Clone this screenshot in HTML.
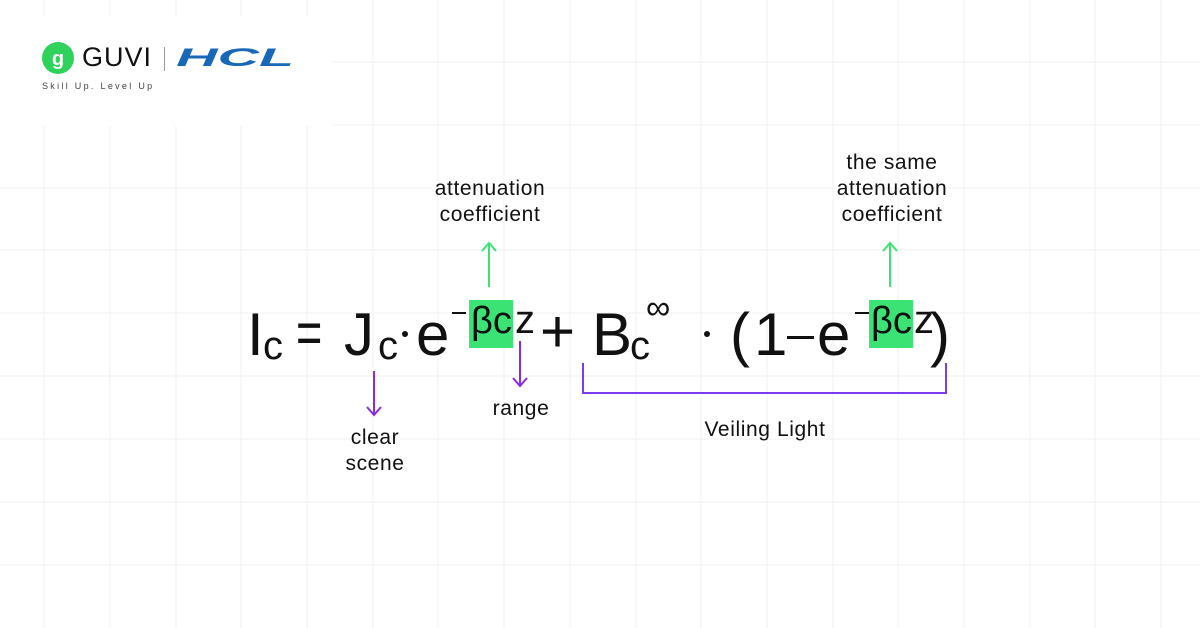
<!DOCTYPE html>
<html><head><meta charset="utf-8"><style>
body{margin:0;width:1200px;height:628px;overflow:hidden;background:#fff;position:relative;font-family:"Liberation Sans",sans-serif;color:#111}
.a{position:absolute;white-space:nowrap;line-height:1}
.big{font-size:60px}
.sub{font-size:40px}
.lbl{font-size:21px;text-align:center;line-height:26px;letter-spacing:0.6px;color:#111}
.grn{position:absolute;background:#3ae374}
.ln{position:absolute;background:#111}
</style></head><body>
<svg width="1200" height="628" style="position:absolute;left:0;top:0">
<g stroke="#f2f2f2" stroke-width="1">
<line x1="44" y1="0" x2="44" y2="628"/><line x1="110" y1="0" x2="110" y2="628"/><line x1="176" y1="0" x2="176" y2="628"/><line x1="241" y1="0" x2="241" y2="628"/><line x1="307" y1="0" x2="307" y2="628"/><line x1="373" y1="0" x2="373" y2="628"/><line x1="438" y1="0" x2="438" y2="628"/><line x1="504" y1="0" x2="504" y2="628"/><line x1="570" y1="0" x2="570" y2="628"/><line x1="636" y1="0" x2="636" y2="628"/><line x1="701" y1="0" x2="701" y2="628"/><line x1="767" y1="0" x2="767" y2="628"/><line x1="833" y1="0" x2="833" y2="628"/><line x1="898" y1="0" x2="898" y2="628"/><line x1="964" y1="0" x2="964" y2="628"/><line x1="1030" y1="0" x2="1030" y2="628"/><line x1="1095" y1="0" x2="1095" y2="628"/><line x1="1161" y1="0" x2="1161" y2="628"/>
<line x1="0" y1="62" x2="1200" y2="62"/><line x1="0" y1="125" x2="1200" y2="125"/><line x1="0" y1="188" x2="1200" y2="188"/><line x1="0" y1="250" x2="1200" y2="250"/><line x1="0" y1="313" x2="1200" y2="313"/><line x1="0" y1="376" x2="1200" y2="376"/><line x1="0" y1="439" x2="1200" y2="439"/><line x1="0" y1="502" x2="1200" y2="502"/><line x1="0" y1="565" x2="1200" y2="565"/>
</g>
<rect x="0" y="16" width="333" height="110" fill="#fff"/>
<circle cx="58" cy="58" r="16" fill="#2fd25a"/>
<text x="58" y="65" font-size="20" font-weight="bold" fill="#fff" text-anchor="middle" font-family="Liberation Sans">g</text>
<g stroke="#3ae374" stroke-width="2" fill="none">
<line x1="489" y1="287" x2="489" y2="244"/><polyline points="482,251 489,243 496,251"/>
<line x1="890" y1="287" x2="890" y2="244"/><polyline points="883,251 890,243 897,251"/>
</g>
<g stroke="#8a2be2" stroke-width="2" fill="none">
<line x1="374" y1="371" x2="374" y2="414"/><polyline points="367,407 374,415 381,407"/>
<line x1="520" y1="341" x2="520" y2="385"/><polyline points="513,378 520,386 527,378"/>
</g>
<polyline points="583,363 583,393 946,393 946,363" stroke="#7a3cf0" stroke-width="2" fill="none"/>
</svg>
<div class="a" style="left:82px;top:44px;font-size:27px;letter-spacing:1px;color:#111">GUVI</div>
<div style="position:absolute;left:164px;top:47px;width:1px;height:24px;background:#999"></div>
<div class="a" style="left:176px;top:46px;font-size:25px;font-weight:bold;font-style:italic;color:#1868b8;transform:scaleX(2.3);transform-origin:left;letter-spacing:0px">HCL</div>
<div class="a" style="left:42px;top:82px;font-size:9px;letter-spacing:2.3px;color:#444">Skill Up. Level Up</div>

<div class="grn" style="left:469px;top:300px;width:44px;height:48px"></div>
<div class="grn" style="left:869px;top:300px;width:44px;height:48px"></div>

<div class="a big" style="left:247px;top:305px">I</div>
<div class="a sub" style="left:263px;top:326px">c</div>
<div class="a big" style="left:296px;top:303px;transform:scaleX(.75);transform-origin:left">=</div>
<div class="a big" style="left:344px;top:305px">J</div>
<div class="a sub" style="left:378px;top:326px">c</div>
<div class="ln" style="left:402px;top:331px;width:6px;height:6px;border-radius:3px"></div>
<div class="a big" style="left:416px;top:305px">e</div>
<div class="ln" style="left:452px;top:312px;width:14px;height:2px"></div>
<div class="a" style="left:471px;top:302px;font-size:38px">βc</div>
<div class="a sub" style="left:515px;top:300px">z</div>
<div class="a big" style="left:540px;top:302px">+</div>
<div class="a big" style="left:592px;top:305px">B</div>
<div class="a sub" style="left:630px;top:326px">c</div>
<div class="a" style="left:646px;top:291px;font-size:34px">∞</div>
<div class="ln" style="left:704px;top:331px;width:6px;height:6px;border-radius:3px"></div>
<div class="a big" style="left:730px;top:305px">(</div>
<div class="a big" style="left:754px;top:305px">1</div>
<div class="ln" style="left:787px;top:336px;width:27px;height:3px"></div>
<div class="a big" style="left:817px;top:305px">e</div>
<div class="ln" style="left:855px;top:312px;width:14px;height:2px"></div>
<div class="a" style="left:871px;top:302px;font-size:38px">βc</div>
<div class="a sub" style="left:914px;top:300px">z</div>
<div class="a big" style="left:930px;top:305px">)</div>

<div class="a lbl" style="left:390px;top:176px;width:200px">attenuation<br>coefficient</div>
<div class="a lbl" style="left:792px;top:150px;width:200px">the same<br>attenuation<br>coefficient</div>
<div class="a lbl" style="left:471px;top:396px;width:100px">range</div>
<div class="a lbl" style="left:325px;top:425px;width:100px">clear<br>scene</div>
<div class="a lbl" style="left:665px;top:417px;width:200px">Veiling Light</div>
</body></html>
